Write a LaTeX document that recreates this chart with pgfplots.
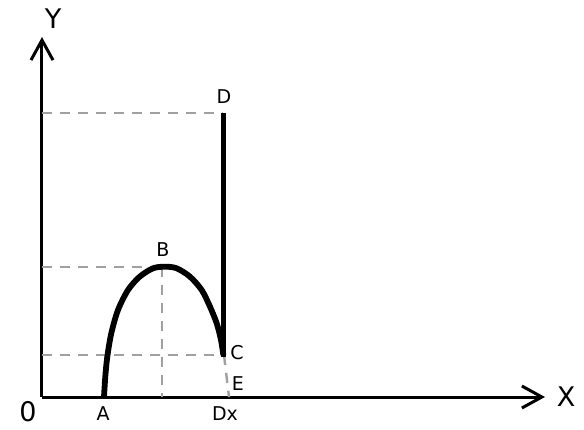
\documentclass[border=0pt]{standalone}
\usepackage{fontspec}
\setmainfont{DejaVu Sans}
\usepackage{pgfplots}
\pgfplotsset{compat=1.18}
\usetikzlibrary{arrows.meta}

\definecolor{guide}{HTML}{A0A0A0}

\begin{document}
\begin{tikzpicture}
% page = 584 x 429, 1 unit = 1pt, origin of the axis at (42,397) px
\useasboundingbox (-42pt,-32pt) rectangle (542pt,397pt);

\begin{axis}[
	anchor=origin,
	x=1pt, y=1pt,
	xmin=0, xmax=503,
	ymin=0, ymax=360,
	axis lines=left,
	axis line style={line width=3pt, -{Straight Barb[length=20pt,width=22pt,line width=3pt]}},
	xtick=\empty, ytick=\empty,
	clip=false,
]

% dashed guides
\addplot[guide, line width=2.4pt, dash pattern=on 10pt off 8pt] coordinates {(0,284) (181,284)};
\addplot[guide, line width=2.4pt, dash pattern=on 10pt off 8pt] coordinates {(0,130) (120,130)};
\addplot[guide, line width=2.4pt, dash pattern=on 10pt off 8pt] coordinates {(120,130) (120,0)};
\addplot[guide, line width=2.4pt, dash pattern=on 10pt off 8pt] coordinates {(0,42) (182,42)};
\addplot[guide, line width=2.4pt, dash pattern=on 10pt off 8pt] coordinates {(182,42) (187,0)};

% arc A-B-C
\addplot[black, line width=5.8pt, smooth] coordinates {
	(62,0)
	(63.3,20.3)
	(65.3,40.3)
	(69.3,63.7)
	(76,87)
	(86,107)
	(97.7,120.3)
	(111,128.7)
	(123,130.3)
	(134.7,128.7)
	(148,120.3)
	(159.7,107)
	(168,90.3)
	(174.7,73.7)
	(179,57)
	(181.3,42)
};

% C-D
\addplot[black, line width=5.8pt] coordinates {(181.5,40) (181.5,284)};

\node[font=\fontsize{19}{19}\selectfont] at (axis cs:61,-17) {A};
\node[font=\fontsize{19}{19}\selectfont] at (axis cs:121,147) {B};
\node[font=\fontsize{19}{19}\selectfont] at (axis cs:195,44) {C};
\node[font=\fontsize{19}{19}\selectfont] at (axis cs:182,300) {D};
\node[font=\fontsize{19}{19}\selectfont] at (axis cs:196,13) {E};
\node[font=\fontsize{19}{19}\selectfont] at (axis cs:183,-17) {Dx};
\node[font=\fontsize{27}{27}\selectfont] at (axis cs:-14,-15) {0};
\node[font=\fontsize{27}{27}\selectfont] at (axis cs:11,378) {Y};
\node[font=\fontsize{27}{27}\selectfont] at (axis cs:524,0) {X};

\end{axis}
\end{tikzpicture}
\end{document}
